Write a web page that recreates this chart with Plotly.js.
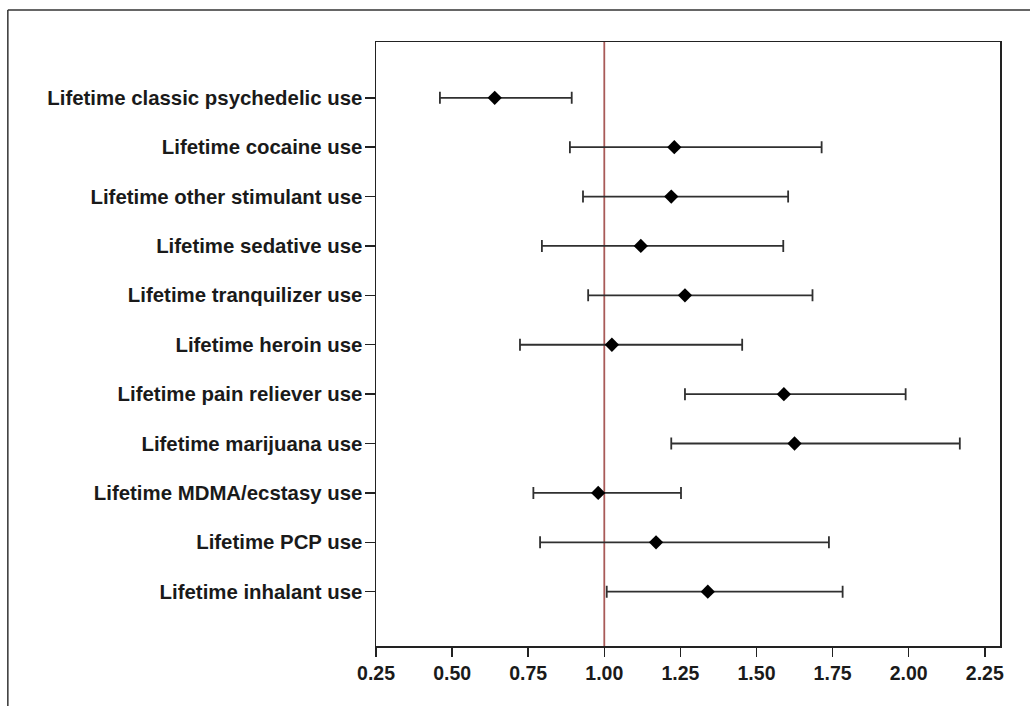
<!DOCTYPE html>
<html>
<head>
<meta charset="utf-8">
<script src="https://cdn.plot.ly/plotly-3.0.1.min.js"></script>
<style>html,body{margin:0;padding:0;background:#fff;}#chart{width:1030px;height:706px;}</style>
</head>
<body>
<div id="chart"></div>
<script>
const categories = [
  "Lifetime classic psychedelic use",
  "Lifetime cocaine use",
  "Lifetime other stimulant use",
  "Lifetime sedative use",
  "Lifetime tranquilizer use",
  "Lifetime heroin use",
  "Lifetime pain reliever use",
  "Lifetime marijuana use",
  "Lifetime MDMA/ecstasy use",
  "Lifetime PCP use",
  "Lifetime inhalant use"
];
const oddsRatio = [0.64, 1.23, 1.22, 1.12, 1.265, 1.025, 1.59, 1.625, 0.98, 1.17, 1.34];
const ciLower  = [0.46, 0.887, 0.93, 0.795, 0.947, 0.723, 1.265, 1.22, 0.767, 0.789, 1.008];
const ciUpper  = [0.893, 1.714, 1.604, 1.588, 1.684, 1.453, 1.99, 2.168, 1.252, 1.738, 1.783];
const xTicks = [0.25, 0.50, 0.75, 1.00, 1.25, 1.50, 1.75, 2.00, 2.25];
const xTickText = ["0.25", "0.50", "0.75", "1.00", "1.25", "1.50", "1.75", "2.00", "2.25"];
const referenceValue = 1.0;

const rows = categories.map((c, i) => i);
const plus = oddsRatio.map((v, i) => ciUpper[i] - v);
const minus = oddsRatio.map((v, i) => v - ciLower[i]);

const trace = {
  type: "scatter",
  mode: "markers",
  x: oddsRatio,
  y: rows,
  marker: {symbol: "diamond", size: 11, color: "#000"},
  error_x: {type: "data", symmetric: false, array: plus, arrayminus: minus,
            color: "#303030", thickness: 1.8, width: 6},
  showlegend: false,
  hoverinfo: "x+y"
};

const fam = "Liberation Sans, Arial, sans-serif";

const layout = {
  width: 1030, height: 706,
  margin: {l: 376, r: 30, t: 42, b: 60},
  paper_bgcolor: "#fff", plot_bgcolor: "#fff",
  font: {family: fam, size: 16, color: "#1a1a1a"},
  xaxis: {
    range: [0.25, 2.30],
    tickvals: xTicks, ticktext: xTickText,
    ticks: "outside", ticklen: 9, tickwidth: 1.5, tickcolor: "#222",
    showgrid: false, zeroline: false,
    showline: true, linecolor: "#222", linewidth: 1.5, mirror: true,
    tickfont: {family: fam, size: 19.5, color: "#1a1a1a", weight: "bold"}
  },
  yaxis: {
    range: [11.1, -1.13],
    tickvals: rows, ticktext: categories,
    ticks: "outside", ticklen: 10, tickwidth: 1.5, tickcolor: "#222",
    ticklabelstandoff: -2,
    showgrid: false, zeroline: false,
    showline: true, linecolor: "#222", linewidth: 1.5, mirror: true,
    tickfont: {family: fam, size: 20.4, color: "#1a1a1a", weight: "bold"}
  },
  shapes: [
    {type: "line", xref: "x", yref: "paper", x0: referenceValue, x1: referenceValue, y0: 0, y1: 1,
     line: {color: "#a85a58", width: 1.8}, layer: "below"},
    {type: "line", xref: "paper", yref: "paper", x0: -0.59, x1: 1.1, y0: 1.053, y1: 1.053,
     line: {color: "#333", width: 1.5}},
    {type: "line", xref: "paper", yref: "paper", x0: -0.59, x1: -0.59, y0: 1.053, y1: -0.2,
     line: {color: "#333", width: 1.5}}
  ]
};

Plotly.newPlot("chart", [trace], layout, {displayModeBar: false, staticPlot: true});
</script>
</body>
</html>
